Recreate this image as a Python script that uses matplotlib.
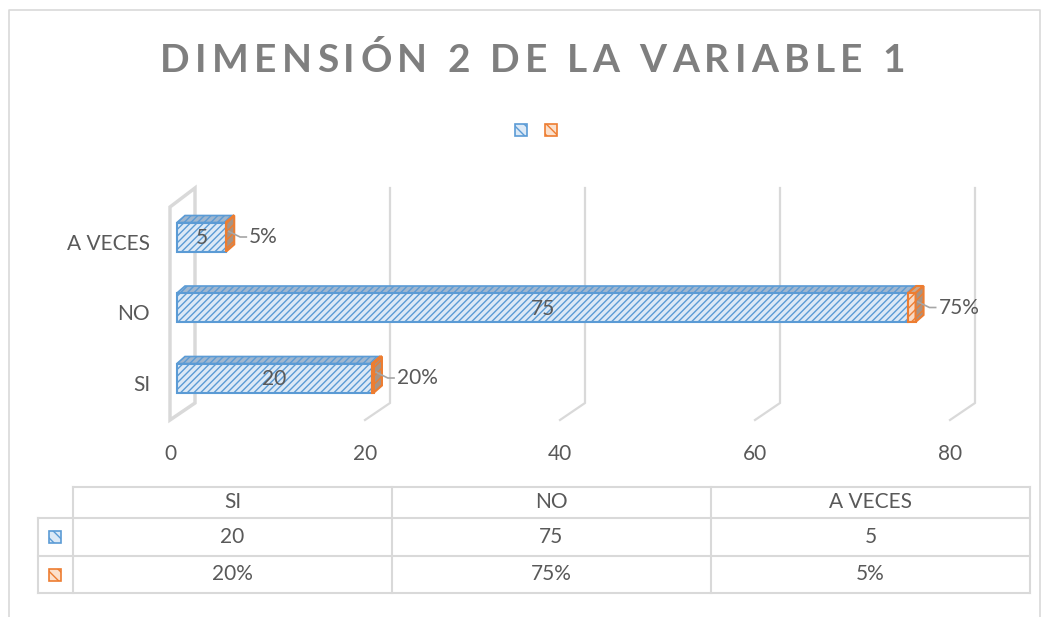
import matplotlib
matplotlib.use("Agg")
import matplotlib.pyplot as plt
from matplotlib.patches import Rectangle, Polygon

# data
categories = ["SI", "NO", "A VECES"]
frecuencia = [20, 75, 5]
porcentaje = [0.20, 0.75, 0.05]
pct_labels = ["20%", "75%", "5%"]
xticks = [0, 20, 40, 60, 80]
title = "DIMENSIÓN 2 DE LA VARIABLE 1"

BLUE = "#5b9bd5"
BLUE_FILL = "#dce9f6"
ORANGE = "#ed7d31"
GRID = "#d9d9d9"
TXT = "#595959"

plt.rcParams["font.family"] = ["Lato", "DejaVu Sans"]
plt.rcParams["hatch.linewidth"] = 1.0

W, H = 1048, 617
fig = plt.figure(figsize=(W / 100, H / 100), dpi=100)

# pixel helpers for the plot area
sx = 9.75          # px per unit on x
sy = 70.5          # px per category
x0_px = 170        # front floor at value 0
y0_px = 378        # centre of first category
L, R, T, B = 160, 1000, 150, 440
ax = fig.add_axes([L / W, 1 - B / H, (R - L) / W, (B - T) / H])
ax.set_xlim((L - x0_px) / sx, (R - x0_px) / sx)
ax.set_ylim((y0_px - B) / sy, (y0_px - T) / sy)
for s in ax.spines.values():
    s.set_visible(False)
ax.set_yticks([])
ax.set_xticks(xticks)
ax.set_xticklabels([str(t) for t in xticks], fontsize=15, color=TXT)
ax.tick_params(axis="x", length=0, pad=3)

# 3d floor / grid geometry
depth_x = 25 / sx
depth_y = 17 / sy
floor_front = (y0_px - 420) / sy
top_back = (y0_px - 188) / sy
for t in xticks[1:]:
    ax.plot([t, t + depth_x, t + depth_x], [floor_front, floor_front + depth_y, top_back],
            color=GRID, lw=1.6, zorder=1, solid_joinstyle="miter")
# left wall
wall_top_front = (y0_px - 207) / sy
ax.add_patch(Polygon([(0, floor_front), (0, wall_top_front), (depth_x, top_back),
                      (depth_x, floor_front + depth_y)], closed=True, fill=False,
                     edgecolor=GRID, lw=2.5, zorder=1))

# bars
ox = 7 / sx
h = 29 / sy
ddx = 8 / sx
ddy = 7 / sy
for i, (v, p) in enumerate(zip(frecuencia, porcentaje)):
    yb, yt = i - h / 2, i + h / 2
    # top face
    ax.add_patch(Polygon([(ox, yt), (ox + v, yt), (ox + v + ddx, yt + ddy), (ox + ddx, yt + ddy)],
                         closed=True, facecolor="#9fb6cf", edgecolor=BLUE, hatch="/////",
                         lw=1.2, zorder=3))
    ax.add_patch(Rectangle((ox, yb), v, h, facecolor=BLUE_FILL, edgecolor=BLUE,
                           hatch="/////", lw=1.5, zorder=4))
    # orange stacked piece + right side
    e = ox + v
    ax.add_patch(Polygon([(e, yt), (e + p, yt), (e + p + ddx, yt + ddy), (e + ddx, yt + ddy)],
                         closed=True, facecolor="#c9a890", edgecolor=ORANGE, lw=1.5, zorder=5))
    ax.add_patch(Rectangle((e, yb), p, h, facecolor="#f8d9c3", edgecolor=ORANGE,
                           hatch="////", lw=1.5, zorder=5))
    ax.add_patch(Polygon([(e + p, yb), (e + p, yt), (e + p + ddx, yt + ddy), (e + p + ddx, yb + ddy)],
                         closed=True, facecolor="#a89383", edgecolor=ORANGE, hatch="////",
                         lw=1.5, zorder=5))
    # labels
    ax.text(ox + v / 2, i - 0.02, str(v), ha="center", va="center", fontsize=15,
            color=TXT, zorder=6)
    lx = e + p + ddx + 15 / sx
    ax.plot([e + p + ddx * 0.3, e + p + ddx + 0.6, lx - 0.3], [i + 0.08, i, i],
            color="#a6a6a6", lw=1.2, zorder=6)
    ax.text(lx, i, pct_labels[i], ha="left", va="center", fontsize=15, color=TXT, zorder=6)
    ax.text(-2.05, i - 7 / sy, categories[i], ha="right", va="center", fontsize=15,
            color=TXT, clip_on=False)

# overlay axes in pixel coordinates for title, legend, data table, border
ov = fig.add_axes([0, 0, 1, 1], zorder=-1)
ov.set_xlim(0, W)
ov.set_ylim(H, 0)
ov.axis("off")
ov.plot([9, 9, 1040, 1040], [H, 10, 10, H], color=GRID, lw=1.2)

# title with letter spacing, drawn char by char
renderer = fig.canvas.get_renderer()
tkw = dict(fontsize=28, fontweight="bold", color="#7f7f7f", va="center", ha="left")
widths = []
for ch in title:
    if ch == " ":
        t = ov.text(0, 0, "A A", **tkw)
        wa = ov.text(0, 0, "AA", **tkw)
        w = t.get_window_extent(renderer).width - wa.get_window_extent(renderer).width
        t.remove(); wa.remove()
    else:
        t = ov.text(0, 0, ch, **tkw)
        w = t.get_window_extent(renderer).width
        t.remove()
    widths.append(w)
t_left, t_right = 160, 905
gap = (t_right - t_left - sum(widths)) / (len(title) - 1)
xc = t_left
for ch, w in zip(title, widths):
    if ch != " ":
        ov.text(xc, 60, ch, **tkw)
    xc += w + gap


def key(xc, yc, color, fill):
    ov.add_patch(Rectangle((xc - 6, yc - 6), 12, 12, facecolor=fill, edgecolor=color,
                           hatch="\\\\\\", lw=1.2))


key(521, 130, BLUE, BLUE_FILL)
key(551, 130, ORANGE, "#fbe0cc")

# data table
cols = [73, 392, 711, 1030]
rows = [487, 518, 556, 593]
ov.plot([73, 1030], [rows[0], rows[0]], color=GRID, lw=1.5)
for r in rows[1:]:
    ov.plot([38, 1030], [r, r], color=GRID, lw=1.5)
ov.plot([38, 38], [rows[1], rows[3]], color=GRID, lw=1.5)
for c in cols:
    ov.plot([c, c], [rows[0], rows[3]], color=GRID, lw=1.5)
for j, cat in enumerate(categories):
    xc = (cols[j] + cols[j + 1]) / 2
    ov.text(xc, (rows[0] + rows[1]) / 2, cat, ha="center", va="center", fontsize=15, color=TXT)
    ov.text(xc, (rows[1] + rows[2]) / 2, str(frecuencia[j]), ha="center", va="center",
            fontsize=15, color=TXT)
    ov.text(xc, (rows[2] + rows[3]) / 2, pct_labels[j], ha="center", va="center",
            fontsize=15, color=TXT)
key(55, (rows[1] + rows[2]) / 2, BLUE, BLUE_FILL)
key(55, (rows[2] + rows[3]) / 2, ORANGE, "#fbe0cc")

fig.savefig("out.png", dpi=100)
